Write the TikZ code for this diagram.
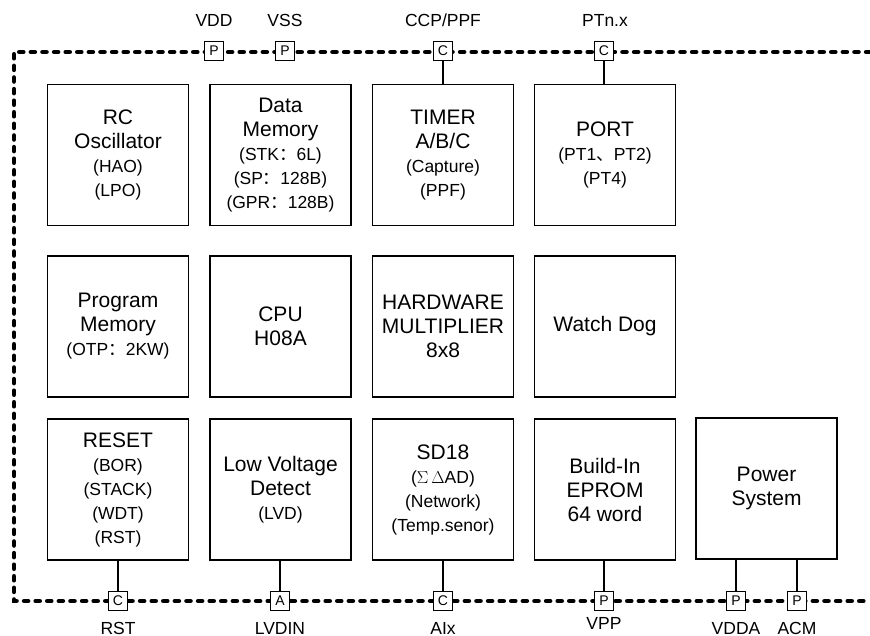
\documentclass[tikz,border=0pt]{standalone}
\usepackage{fontspec}
\setmainfont{Liberation Sans}
\newfontfamily\cjk{Noto Sans CJK SC}
\usetikzlibrary{positioning}
\newcommand{\sm}[1]{{\fontsize{17.5}{21}\selectfont #1}}
\newcommand{\fwc}{{\cjk ：}}
\newcommand{\fwcomma}{{\cjk 、}}

\begin{document}
\begin{tikzpicture}[x=1pt,y=-1pt]

          \tikzstyle{blockNode} = [draw, line width=1.5pt, minimum width=141pt, minimum height=141pt, align=center, font=\fontsize{21}{24}\selectfont, inner sep=0pt];
          \tikzstyle{pinNode} = [draw, fill=white, line width=0.9pt, minimum size=19pt, inner sep=0pt, font=\fontsize{14}{15}\selectfont];
          \tikzstyle{labelNode} = [font=\fontsize{17.5}{20}\selectfont, inner sep=0pt];

          \tikzstyle{frameEdge} = [line width=4.8pt, line cap=round, dash pattern=on 3.8pt off 7.8pt];
          \tikzstyle{linkEdge} = [line width=1.1pt];

          \useasboundingbox (0,0) rectangle (870,636);

          % top row
          \node[blockNode] (rc) at (118,155) {RC\\Oscillator\\\sm{(HAO)}\\\sm{(LPO)}};
          \node[blockNode] (dmem) at (280.5,155) {Data\\Memory\\\sm{(STK\fwc 6L)}\\\sm{(SP\fwc 128B)}\\\sm{(GPR\fwc 128B)}};
          \node[blockNode] (timer) at (443,155) {TIMER\\A/B/C\\\sm{(Capture)}\\\sm{(PPF)}};
          \node[blockNode] (port) at (605,155) {PORT\\\sm{(PT1\fwcomma PT2)}\\\sm{(PT4)}};

          % middle row
          \node[blockNode] (pmem) at (118,326.5) {Program\\Memory\\\sm{(OTP\fwc 2KW)}};
          \node[blockNode] (cpu) at (280.5,326.5) {CPU\\H08A};
          \node[blockNode] (mult) at (443,326.5) {HARDWARE\\MULTIPLIER\\8x8};
          \node[blockNode] (wdog) at (605,326.5) {Watch Dog};

          % bottom row
          \node[blockNode] (reset) at (118,489.5) {RESET\\\sm{(BOR)}\\\sm{(STACK)}\\\sm{(WDT)}\\\sm{(RST)}};
          \node[blockNode] (lvd) at (280.5,489.5) {Low Voltage\\Detect\\\sm{(LVD)}};
          \node[blockNode] (sd) at (443,489.5) {SD18\\\sm{($\Sigma$\,$\Delta$AD)}\\\sm{(Network)}\\\sm{(Temp.senor)}};
          \node[blockNode] (eprom) at (605,489.5) {Build-In\\EPROM\\64 word};
          \node[blockNode] (power) at (766.5,488.5) {Power\\System};

          % chip border
          \draw[frameEdge] (870,52) -- (14,52) -- (14,601) -- (870,601);

          % pins
          \node[pinNode] (pinVDD) at (214,51) {P};
          \node[pinNode] (pinVSS) at (285,51) {P};
          \node[pinNode] (pinCCP) at (443,51) {C};
          \node[pinNode] (pinPT) at (604,51) {C};
          \node[pinNode] (pinRST) at (118,601) {C};
          \node[pinNode] (pinLVDIN) at (280,601) {A};
          \node[pinNode] (pinAIx) at (443,601) {C};
          \node[pinNode] (pinVPP) at (604,601) {P};
          \node[pinNode] (pinVDDA) at (736,601) {P};
          \node[pinNode] (pinACM) at (797,601) {P};

          \node[labelNode] (lVDD) at (214,20) {VDD};
          \node[labelNode] (lVSS) at (285,20) {VSS};
          \node[labelNode] (lCCP) at (443,20) {CCP/PPF};
          \node[labelNode] (lPT) at (605,20) {PTn.x};
          \node[labelNode] (lRST) at (118,628) {RST};
          \node[labelNode] (lLVDIN) at (280,628) {LVDIN};
          \node[labelNode] (lAIx) at (443,628) {AIx};
          \node[labelNode] (lVPP) at (604,623) {VPP};
          \node[labelNode] (lVDDA) at (736,628) {VDDA};
          \node[labelNode] (lACM) at (797,628) {ACM};

          \draw[linkEdge] (timer) -- (pinCCP);
          \draw[linkEdge] (port.north -| pinPT) -- (pinPT);
          \draw[linkEdge] (reset) -- (pinRST);
          \draw[linkEdge] (lvd.south -| pinLVDIN) -- (pinLVDIN);
          \draw[linkEdge] (sd) -- (pinAIx);
          \draw[linkEdge] (eprom.south -| pinVPP) -- (pinVPP);
          \draw[linkEdge] (power.south -| pinVDDA) -- (pinVDDA);
          \draw[linkEdge] (power.south -| pinACM) -- (pinACM);
        \end{tikzpicture}
\end{document}
